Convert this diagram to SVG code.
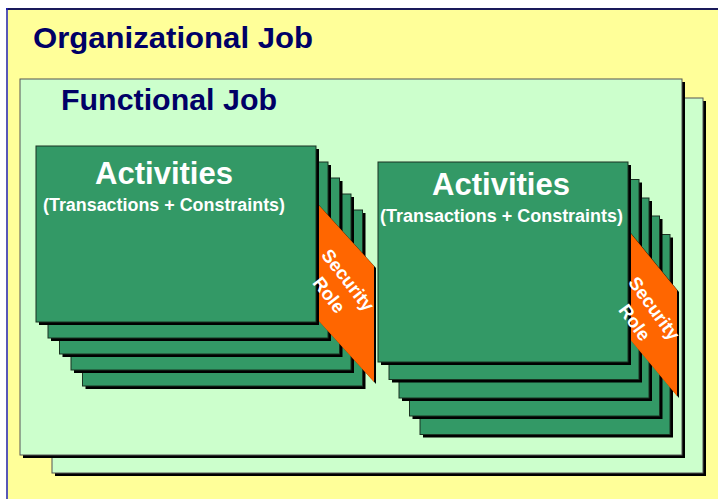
<svg xmlns="http://www.w3.org/2000/svg" width="718" height="499" viewBox="0 0 718 499">
<defs>
<style>
.bg{fill:#FFFF99}
.panel{fill:#CCFFCC;stroke:#555555;stroke-width:1}
.shadow{fill:#000000}
.card{fill:#339966;stroke:#1A3322;stroke-width:1}
.role{fill:#FF6600}
.title{font-family:"Liberation Sans",Arial,sans-serif;font-weight:bold;font-size:30px;fill:#000066}
.act{font-family:"Liberation Sans",Arial,sans-serif;font-weight:bold;font-size:32px;fill:#FFFFFF;text-anchor:middle}
.sub{font-family:"Liberation Sans",Arial,sans-serif;font-weight:bold;font-size:18px;fill:#FFFFFF;text-anchor:middle}
.rt{font-family:"Liberation Sans",Arial,sans-serif;font-weight:bold;font-size:18.5px;fill:#FFFFFF;text-anchor:middle}
</style>
</defs>
<rect x="0" y="0" width="718" height="499" fill="#FFFFFF"/>
<g id="organizational-job">
<rect class="bg" x="6" y="8" width="712" height="491"/>
<line x1="6" y1="9" x2="718" y2="9" stroke="#1A1A5A" stroke-width="2"/>
<line x1="7" y1="8" x2="7" y2="499" stroke="#2020C0" stroke-width="1.5"/>
<text class="title" x="33" y="48" textLength="280" lengthAdjust="spacingAndGlyphs">Organizational Job</text>
</g>
<g id="functional-job-back">
<rect class="shadow" x="55" y="101" width="651" height="375"/>
<rect class="panel" x="52" y="98" width="651" height="375"/>
</g>
<g id="functional-job">
<rect class="shadow" x="23" y="82" width="662" height="376"/>
<rect class="panel" x="20" y="79" width="662" height="376"/>
<text class="title" x="61" y="110" textLength="216" lengthAdjust="spacingAndGlyphs">Functional Job</text>
</g>
<g id="activities-left">
<rect class="shadow" x="85.5" y="213" width="280" height="176"/>
<rect class="card" x="82.5" y="210" width="280" height="176"/>
<rect class="shadow" x="74" y="197" width="280" height="176"/>
<rect class="card" x="71" y="194" width="280" height="176"/>
<rect class="shadow" x="62.5" y="181" width="280" height="176"/>
<rect class="card" x="59.5" y="178" width="280" height="176"/>
<rect class="shadow" x="51" y="165" width="280" height="176"/>
<rect class="card" x="48" y="162" width="280" height="176"/>
<polygon class="shadow" points="318,204 376,268 376,384 318,320"/>
<polygon class="role" points="316,202 374,266 374,382 316,318"/>
<rect class="shadow" x="39" y="149" width="280" height="176"/>
<rect class="card" x="36" y="146" width="280" height="176"/>
<text class="act" x="164" y="184" textLength="138" lengthAdjust="spacingAndGlyphs">Activities</text>
<text class="sub" x="164" y="211" textLength="242" lengthAdjust="spacingAndGlyphs">(Transactions + Constraints)</text>
<g transform="translate(339,287) rotate(52)">
<text class="rt" x="0" y="-5">Security</text>
<text class="rt" x="0" y="19">Role</text>
</g>
</g>
<g id="activities-right">
<rect class="shadow" x="423" y="237.5" width="250" height="200"/>
<rect class="card" x="420" y="234.5" width="250" height="200"/>
<rect class="shadow" x="412.5" y="219" width="250" height="200"/>
<rect class="card" x="409.5" y="216" width="250" height="200"/>
<rect class="shadow" x="402" y="201" width="250" height="200"/>
<rect class="card" x="399" y="198" width="250" height="200"/>
<rect class="shadow" x="392" y="182.5" width="250" height="200"/>
<rect class="card" x="389" y="179.5" width="250" height="200"/>
<polygon class="shadow" points="630,232 679,292 679,398 630,339"/>
<polygon class="role" points="628,230 677,290 677,396 628,337"/>
<rect class="shadow" x="381" y="165" width="250" height="200"/>
<rect class="card" x="378" y="162" width="250" height="200"/>
<text class="act" x="501" y="195" textLength="138" lengthAdjust="spacingAndGlyphs">Activities</text>
<text class="sub" x="501.5" y="222" textLength="243" lengthAdjust="spacingAndGlyphs">(Transactions + Constraints)</text>
<g transform="translate(645,315) rotate(54)">
<text class="rt" x="0" y="-5">Security</text>
<text class="rt" x="0" y="19">Role</text>
</g>
</g>
<g id="connectors"></g>
</svg>
